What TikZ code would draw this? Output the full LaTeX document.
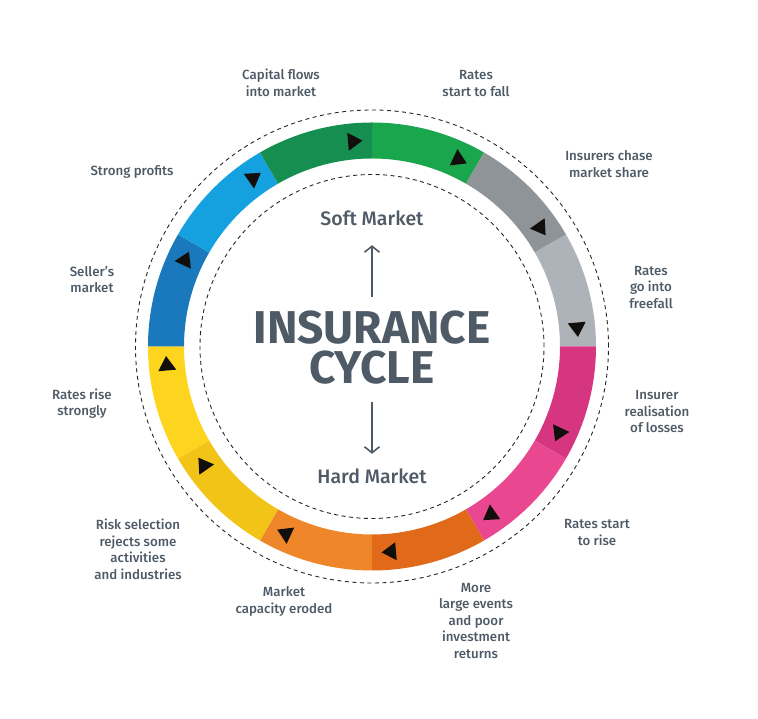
\documentclass[tikz,border=0pt]{standalone}
\usepackage{fontspec}
\setmainfont{Fira Sans}
\newfontfamily\medfont{Fira Sans Medium}
\newfontfamily\boldfont{Fira Sans Bold}
\usetikzlibrary{arrows.meta}
\definecolor{icText}{RGB}{78,90,102}
\definecolor{icGreenD}{RGB}{21,142,80}
\definecolor{icGreen}{RGB}{25,166,76}
\definecolor{icGrey}{RGB}{143,148,153}
\definecolor{icGreyL}{RGB}{173,179,185}
\definecolor{icMagenta}{RGB}{214,53,127}
\definecolor{icPink}{RGB}{233,71,143}
\definecolor{icOrangeD}{RGB}{224,106,26}
\definecolor{icOrange}{RGB}{240,134,42}
\definecolor{icGold}{RGB}{243,196,24}
\definecolor{icYellow}{RGB}{253,213,31}
\definecolor{icBlueD}{RGB}{26,120,188}
\definecolor{icBlueL}{RGB}{21,160,224}
\definecolor{icTip}{RGB}{17,14,12}

\begin{document}
\begin{tikzpicture}[x=1pt, y=1pt, font=\medfont\fontsize{13.3}{16.5}\selectfont,
  lbl/.style={text=icText, align=center, inner sep=0pt},
  mkt/.style={text=icText, inner sep=0pt, font=\medfont\fontsize{19.5}{21}\selectfont},
  ttl/.style={text=icText, inner sep=0pt, font=\boldfont\fontsize{46}{46}\selectfont},
  mktArrow/.style={draw=icText, line width=1.6pt, -{Straight Barb[length=6pt, width=15pt]}},
  ringDash/.style={draw=black!85, line width=0.9pt, dash pattern=on 4pt off 3.5pt}]
\useasboundingbox (-372,-372.5) rectangle (386,346.5);
% ring: outer r=224, inner r=188, 12 segments of 30 deg going clockwise from the top
\def\Ro{224}
\def\Ri{188}
\foreach \a/\c in {90/icGreen, 60/icGrey, 30/icGreyL, 0/icMagenta, -30/icPink, -60/icOrangeD,
                   -90/icOrange, -120/icGold, -150/icYellow, -180/icBlueD, -210/icBlueL, -240/icGreenD}
  \fill[\c] (\a:\Ro) arc[start angle=\a, end angle=\a-30, radius=\Ro]
    -- (\a-30:\Ri) arc[start angle=\a-30, end angle=\a, radius=\Ri] -- cycle;
% dashed guide circles
\draw[ringDash] (0,0) circle[radius=236.5];
\draw[ringDash] (0,0) circle[radius=172];
% small triangles, 5 deg before each joint, pointing clockwise
\foreach \a in {95,65,...,-235}
  \fill[icTip, shift={(\a:206)}, rotate=\a-90] (8.5,0) -- (-6,9) -- (-6,-9) -- cycle;
% centre
\node[ttl] (titleA) at (0,19) {INSURANCE};
\node[ttl] (titleB) at (0,-21) {CYCLE};
\node[mkt] (soft) at (0,128) {Soft Market};
\node[mkt] (hard) at (0,-130) {Hard Market};
\draw[mktArrow, shorten <=14pt, shorten >=19pt] (titleA.north) -- (soft.south);
\draw[mktArrow, shorten <=18pt, shorten >=15pt] (titleB.south) -- (hard.north);
% labels round the ring
\node[lbl] (capital)  at (-91,263.5) {Capital flows\\into market};
\node[lbl] (startfall) at (104,263) {Rates\\start to fall};
\node[lbl] (chase)    at (237,182.5) {Insurers chase\\market share};
\node[lbl] (freefall) at (279,59) {Rates\\go into\\freefall};
\node[lbl] (losses)   at (285,-65.5) {Insurer\\realisation\\of losses};
\node[lbl] (startrise) at (225,-186) {Rates start\\to rise};
\node[lbl] (events)   at (104,-274.5) {More\\large events\\and poor\\investment\\returns};
\node[lbl] (eroded)   at (-88,-255) {Market\\capacity eroded};
\node[lbl] (risk)     at (-234,-203) {Risk selection\\rejects some\\activities\\and industries};
\node[lbl] (strongly) at (-290,-57) {Rates rise\\strongly};
\node[lbl] (seller)   at (-280,67) {Seller’s\\market};
\node[lbl] (profits)  at (-240,175) {Strong profits};
\end{tikzpicture}
\end{document}
